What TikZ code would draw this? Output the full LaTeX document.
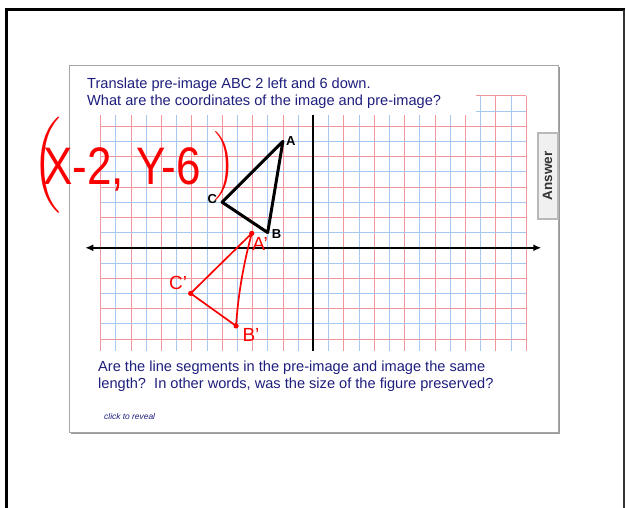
\documentclass[tikz,border=0pt]{standalone}
\usepackage{amsmath}
\usepackage{amssymb}
\usepackage{fontspec}
\setmainfont{Liberation Sans}
\usepackage{tikz}
\usetikzlibrary{arrows.meta}

\definecolor{slideblue}{RGB}{30,30,125}
\definecolor{gridred}{RGB}{242,150,155}
\definecolor{gridblue}{RGB}{165,200,240}
\definecolor{inkred}{RGB}{250,0,0}

\tikzset{
redgrid/.style={gridred,line width=0.75pt},
bluegrid/.style={gridblue,line width=0.75pt},
axisline/.style={black,line width=1.8pt},
ink/.style={inkred,line width=1.7pt,line cap=round,line join=round},
inklabel/.style={text=inkred,inner sep=0pt,font=\fontsize{19}{19}\selectfont},
vertex/.style={inner sep=1pt,font=\fontsize{13}{13}\selectfont\bfseries},
slidetext/.style={text=slideblue,inner sep=0pt,anchor=north west,align=left,font=\fontsize{14.6}{17}\selectfont},
answerbtn/.style={draw=gray!55,fill=gray!12,line width=2pt,rotate=90,minimum width=86pt,minimum height=20pt,inner sep=0pt,text=black!80,font=\fontsize{13.5}{13.5}\selectfont\bfseries}
}

\begin{document}
\begin{tikzpicture}[x=1pt,y=-1pt]
\useasboundingbox (0,0) rectangle (626,508);
\draw[black,line width=3pt] (6,515) -- (6,10) -- (625,10);
\draw[black!80,line width=2.5pt] (624,10) -- (624,515);
\draw[gray!80,line width=2pt] (71,433) -- (559,433) -- (559,67);
\draw[gray!70,line width=0.8pt,fill=white] (69,65) rectangle (558,432);

\begin{scope}[shift={(313.3,247.8)},x=15.2pt,y=15.2pt]
\foreach \i in {-13,-11,...,13} \draw[bluegrid] (\i,-6.77) -- (\i,8.74);
\foreach \i in {-14,-12,...,14} \draw[redgrid] (\i,-6.77) -- (\i,8.74);
\foreach \j in {-5,-3,...,7} \draw[bluegrid] (-14,\j) -- (14,\j);
\foreach \j in {-6,-4,...,8} \draw[redgrid] (-14,\j) -- (14,\j);
\foreach \i in {11,13} \draw[bluegrid] (\i,8.74) -- (\i,10);
\foreach \i in {12,14} \draw[redgrid] (\i,8.74) -- (\i,10);
\draw[bluegrid] (10.7,9) -- (14,9);
\draw[redgrid] (10.7,10) -- (14,10);

\coordinate (ytop) at (0,8.74);
\coordinate (ybot) at (0,-6.77);
\coordinate (xleft) at (-15,0);
\coordinate (xright) at (15,0);
\draw[axisline] (ytop) -- (ybot);
\draw[axisline,{Latex[length=8pt,width=7pt]}-{Latex[length=8pt,width=7pt]}] (xleft) -- (xright);

\coordinate (A) at (-2,7);
\coordinate (B) at (-3,1);
\coordinate (C) at (-6,3);
\draw[line width=3pt,line join=round] (A) -- (B) -- (C) -- cycle;
\node[vertex,anchor=west,xshift=2pt] (labA) at (A) {A};
\node[vertex,anchor=west,xshift=3pt,yshift=-1.5pt] (labB) at (B) {B};
\node[vertex,anchor=east,xshift=-4pt,yshift=3pt] (labC) at (C) {C};

\coordinate (Ai) at (-4.05,0.95);
\coordinate (Bi) at (-5.08,-5.14);
\coordinate (Ci) at (-8.07,-3);
\draw[ink] (Ci) -- (Ai) .. controls (-4.6,-1.1) and (-4.95,-3.1) .. (Bi) -- cycle;
\foreach \p in {Ai,Bi,Ci} \fill[inkred] (\p) circle (2.6pt);
\node[inklabel] (labAi) at (-3.5,0.25) {A'};
\node[inklabel] (labCi) at (-8.9,-2.3) {C'};
\node[inklabel] (labBi) at (-4.1,-5.75) {B'};
\end{scope}

\node[text=inkred,inner sep=0pt] (lparen) at (47,165.5) {\scalebox{3.6}[3.2]{$\Bigg($}};
\node[text=inkred,inner sep=0pt] (rparen) at (225,166) {\scalebox{2.6}[2.3]{$\Bigg)$}};
\node[text=inkred,inner sep=0pt,anchor=base west,font=\fontsize{44}{44}\selectfont] (rule) at (43,184) {\scalebox{1}[1.2]{X-2, Y-6}};

\node[slidetext] (title) at (87,77.5) {Translate pre-image ABC 2 left and 6 down.\\What are the coordinates of the image and pre-image?};
\node[slidetext] (question) at (98,360.5) {Are the line segments in the pre-image and image the same\\length?\ \ In other words, was the size of the figure preserved?};
\node[text=slideblue,inner sep=0pt,anchor=west,font=\fontsize{8.4}{10}\selectfont\itshape] (reveal) at (104,416) {click to reveal};
\node[answerbtn] (answer) at (547.5,176) {Answer};
\end{tikzpicture}
\end{document}
